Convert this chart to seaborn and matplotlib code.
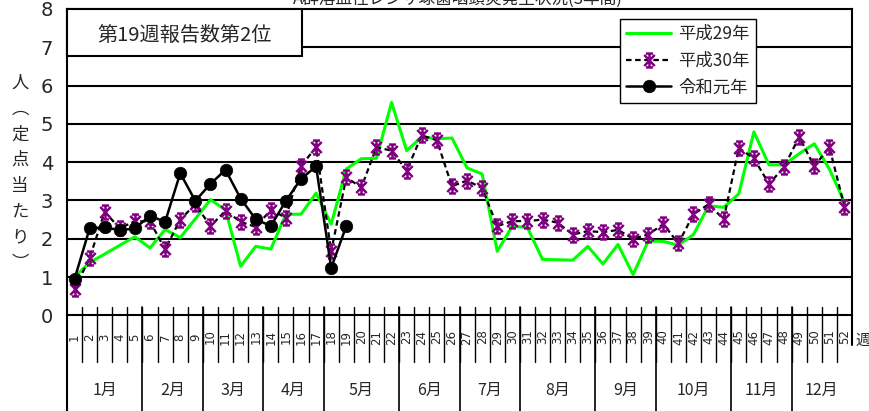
import numpy as np
import pandas as pd
import matplotlib
matplotlib.use('Agg')
import matplotlib.pyplot as plt
import seaborn as sns
from matplotlib.path import Path
from matplotlib.patches import Rectangle

# ---------------- data ----------------
weeks = list(range(1, 53))
h29 = [1.0, 1.38, 1.6, 1.83, 2.05, 1.76, 2.24, 2.03, 2.52, 3.02, 2.75, 1.28, 1.8,
       1.73, 2.64, 2.64, 3.19, 2.38, 3.82, 4.09, 4.1, 5.56, 4.3, 4.66, 4.61, 4.63,
       3.85, 3.69, 1.67, 2.33, 2.29, 1.46, 1.45, 1.44, 1.8, 1.34, 1.85, 1.06, 1.94,
       1.93, 1.83, 2.11, 2.86, 2.82, 3.17, 4.79, 3.93, 3.93, 4.22, 4.48, 3.82, 2.95]
h30 = [0.68, 1.5, 2.7, 2.27, 2.46, 2.45, 1.72, 2.5, 2.9, 2.33, 2.73, 2.44, 2.31,
       2.75, 2.55, 3.9, 4.39, 1.67, 3.6, 3.34, 4.39, 4.3, 3.78, 4.7, 4.57, 3.37,
       3.52, 3.32, 2.33, 2.46, 2.46, 2.5, 2.42, 2.11, 2.2, 2.17, 2.23, 2.0, 2.11,
       2.38, 1.88, 2.64, 2.9, 2.51, 4.37, 4.1, 3.43, 3.87, 4.66, 3.89, 4.39, 2.84]
r1 = [0.95, 2.27, 2.3, 2.22, 2.27, 2.6, 2.44, 3.71, 2.99, 3.43, 3.8, 3.05, 2.51,
      2.33, 2.99, 3.56, 3.89, 1.24, 2.33]
series_names = ['平成29年', '平成30年', '令和元年']
months = ['1月', '2月', '3月', '4月', '5月', '6月', '7月', '8月', '9月', '10月', '11月', '12月']
month_weeks = [5, 4, 4, 4, 5, 4, 4, 5, 4, 5, 4, 4]
yticks = [0, 1, 2, 3, 4, 5, 6, 7, 8]
title_text = 'A群溶血性レンサ球菌咽頭炎発生状況(3年間)'
box_text = '第19週報告数第2位'
ylabel_text = '人︵定点当たり︶'
week_unit = '週'

df29 = pd.DataFrame({'week': weeks, 'value': h29})
df30 = pd.DataFrame({'week': weeks, 'value': h30})
dfr1 = pd.DataFrame({'week': weeks[:len(r1)], 'value': r1})

# ---------------- style ----------------
sns.set_style('white')
plt.rcParams['font.family'] = ['Noto Sans CJK JP', 'DejaVu Sans']
NARROW = ['Liberation Sans Narrow', 'DejaVu Sans']

W, H = 869, 411
fig = plt.figure(figsize=(W / 100, H / 100), dpi=100)
AX_L, AX_R, AX_T, AX_B = 67, 852, 9, 315.3
ax = fig.add_axes([AX_L / W, 1 - AX_B / H, (AX_R - AX_L) / W, (AX_B - AX_T) / H])


def ay(p):
    return (AX_B - p) / (AX_B - AX_T)


def axx(p):
    return (p - AX_L) / (AX_R - AX_L)


# star marker (Excel style asterisk with caps)
verts = [(0, -1), (0, 1),
         (-0.75, -0.8), (0.75, 0.8),
         (-0.75, 0.8), (0.75, -0.8),
         (-0.5, 1), (0.5, 1),
         (-0.5, -1), (0.5, -1)]
codes = [Path.MOVETO, Path.LINETO] * 5
star = Path(verts, codes)

sns.lineplot(data=df29, x='week', y='value', ax=ax, color='#00FF00', lw=2.2,
             label=series_names[0], errorbar=None, zorder=3)
sns.lineplot(data=df30, x='week', y='value', ax=ax, color='black', lw=1.6,
             linestyle=(0, (2.5, 1.6)), marker=star, markersize=10,
             markerfacecolor='none', markeredgecolor='#800080', markeredgewidth=1.8,
             label=series_names[1], errorbar=None, zorder=4)
sns.lineplot(data=dfr1, x='week', y='value', ax=ax, color='black', lw=1.8,
             marker='o', markersize=9, markerfacecolor='black', markeredgecolor='black',
             markeredgewidth=0.5, label=series_names[2], errorbar=None, zorder=5)

ax.set_xlim(0.5, 52.5)
ax.set_ylim(0, 8)
ax.set_xlabel('')
ax.set_ylabel('')
ax.set_xticks([])
ax.set_yticks(yticks)
ax.set_yticklabels([str(v) for v in yticks], fontsize=14, family=NARROW)
ax.tick_params(axis='y', length=0, pad=10)
for v in yticks[1:-1]:
    ax.axhline(v, color='black', lw=1.5, zorder=1)
for s in ax.spines.values():
    s.set_color('black')
    s.set_linewidth(1.5)

tr = ax.get_xaxis_transform()
# week cells
for k in range(1, 52):
    ax.plot([k + 0.5, k + 0.5], [ay(307), ay(362)], color='black', lw=1.0,
            transform=tr, clip_on=False)
for w in weeks:
    ax.text(w, ay(337), str(w), rotation=90, ha='center', va='center', fontsize=8.5,
            family=NARROW, transform=tr, clip_on=False)
# month cells
start = 0.5
bounds = [start]
for n in month_weeks:
    bounds.append(bounds[-1] + n)
for b in bounds[1:-1]:
    ax.plot([b, b], [ay(307), ay(412)], color='black', lw=1.2, transform=tr, clip_on=False)
ax.plot([0.5, 0.5], [0, ay(412)], color='black', lw=1.5, transform=tr, clip_on=False)
ax.plot([52.5, 52.5], [0, ay(345)], color='black', lw=1.5, transform=tr, clip_on=False)
for i, m in enumerate(months):
    ax.text((bounds[i] + bounds[i + 1]) / 2, ay(390), m, ha='center', va='center',
            fontsize=11.5, transform=tr, clip_on=False)

# text box
ax.add_patch(Rectangle((0, ay(56)), axx(302), 1 - ay(56), transform=ax.transAxes,
                       facecolor='white', edgecolor='black', lw=1.5, zorder=6, clip_on=False))
ax.text(axx(185), ay(35), box_text, transform=ax.transAxes, ha='center', va='center',
        fontsize=14.5, zorder=7)

# legend
handles, labels = ax.get_legend_handles_labels()
leg = ax.legend(handles, labels, loc='upper left', bbox_to_anchor=(axx(620), ay(19)),
                fontsize=12.5, frameon=True, fancybox=False, edgecolor='black', framealpha=1,
                borderpad=0.35, handlelength=2.6, handletextpad=0.4, labelspacing=0.5,
                borderaxespad=0)
leg.get_frame().set_linewidth(1.0)
leg.set_zorder(8)

# figure texts
fig.text(458 / W, 1 - 4 / H, title_text, ha='center', va='baseline', fontsize=12)
fig.text(20 / W, 1 - 173 / H, '\n'.join(ylabel_text), ha='center', va='center',
         fontsize=12.5, linespacing=1.55)
fig.text(855 / W, 1 - 340 / H, week_unit, ha='left', va='center', fontsize=11)

fig.savefig('out.png', dpi=100)
